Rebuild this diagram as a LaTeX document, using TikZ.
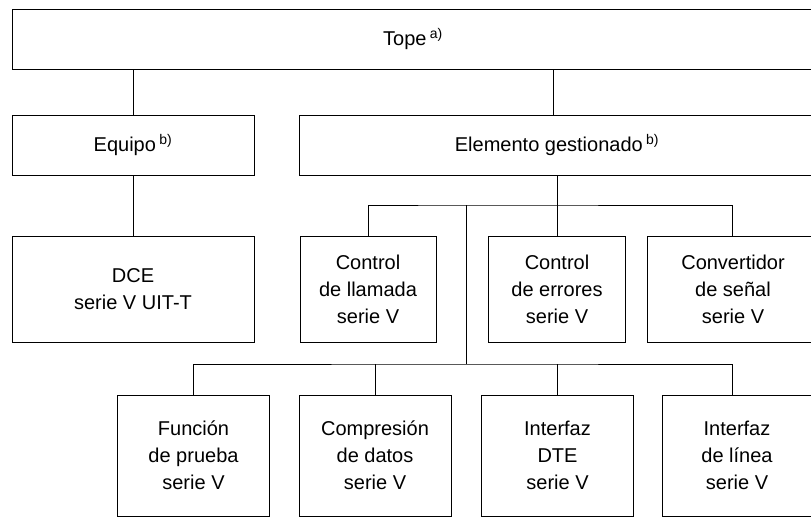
\documentclass[tikz,border=0pt]{standalone}
\usepackage{fontspec}
\setmainfont{Liberation Sans}

\begin{document}
\begin{tikzpicture}[x=1pt,y=-1pt,
  caja/.style={draw,line width=0.9pt,align=center,inner sep=0pt,
    font=\fontsize{20}{27}\selectfont},
  enlace/.style={line width=0.9pt}]
  \useasboundingbox (0,0) rectangle (811,517);

  \node[caja,minimum width=802,minimum height=60] (tope) at (413,39) {Tope\,\textsuperscript{a)}};
  \node[caja,minimum width=242,minimum height=60] (equipo) at (133,145) {Equipo\,\textsuperscript{b)}};
  \node[caja,minimum width=516,minimum height=60] (elem) at (557,145) {Elemento gestionado\,\textsuperscript{b)}};

  \node[caja,minimum width=242,minimum height=106] (dce) at (133,289) {DCE\\serie V UIT-T};
  \node[caja,minimum width=136,minimum height=106] (llamada) at (368,289) {Control\\de llamada\\serie V};
  \node[caja,minimum width=137,minimum height=106] (errores) at (557,289) {Control\\de errores\\serie V};
  \node[caja,minimum width=172,minimum height=106] (convert) at (733,289) {Convertidor\\de señal\\serie V};

  \node[caja,minimum width=152,minimum height=121] (prueba) at (193.5,455.5) {Función\\de prueba\\serie V};
  \node[caja,minimum width=152,minimum height=121] (compres) at (375,455.5) {Compresión\\de datos\\serie V};
  \node[caja,minimum width=152,minimum height=121] (dte) at (557.5,455.5) {Interfaz\\DTE\\serie V};
  \node[caja,minimum width=150,minimum height=121] (linea) at (737,455.5) {Interfaz\\de línea\\serie V};

  \coordinate (b1) at (466.7,205);
  \coordinate (b2) at (466.7,364);

  \draw[enlace] (equipo.north) -- (equipo.north |- tope.south);
  \draw[enlace] ([xshift=-4pt]elem.north) -- ([xshift=-4pt]elem.north |- tope.south);
  \draw[enlace] (equipo.south) -- (dce.north);
  \draw[enlace] (elem.south) -- (errores.north);
  \draw[enlace] (llamada.north) |- (b1) -| ([xshift=-1pt]convert.north);
  \draw[enlace] (b1) -- (b2);
  \draw[enlace] (prueba.north) |- (b2) -| ([xshift=-5pt]linea.north);
  \draw[enlace] (compres.north) -- (compres.north |- b2);
  \draw[enlace] (dte.north) -- (dte.north |- b2);
\end{tikzpicture}
\end{document}
